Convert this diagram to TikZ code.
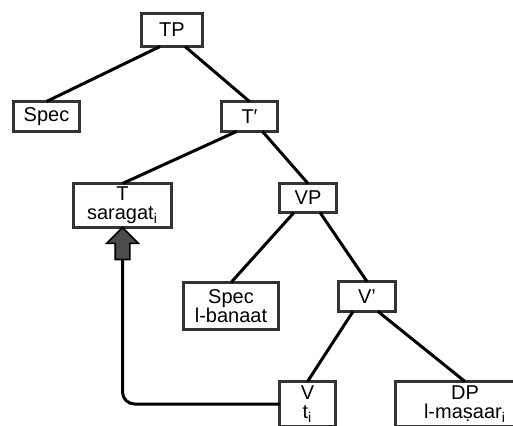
\documentclass[tikz,border=0pt]{standalone}
\usepackage{fontspec}
\setmainfont{Liberation Sans}
\usetikzlibrary{positioning,shapes.arrows}

\begin{document}
\begin{tikzpicture}[
		x=0.5pt, y=-0.5pt,
		every node/.style = {
			draw=black!80, rectangle, line width=1.7pt,
			minimum width=28pt,
			minimum height=15pt,
			outer sep=0cm, inner sep=0cm,
			align=center,
			font=\fontsize{10pt}{9.6pt}\selectfont
		},
		branch/.style = {line width=1.5pt, black},
		mover/.style = {line width=1.5pt, black, rounded corners=6pt}
		]
		\clip (0,0) rectangle (513,425);
		%\draw (0,0) grid (513,425);
		\node[minimum width=30.5pt, minimum height=16.5pt] (tp) at (172, 30) {TP};
		\node[minimum width=33pt] (spec) at (46.5, 116.5) {Spec};
		\node (tbar) at (249.5, 116.5) {T′};
		\node[minimum width=49pt, minimum height=22pt] (t) at (122.5, 205.5) {T\\saragat\textsubscript{i}};
		\node[minimum width=28.5pt, minimum height=14.5pt] (vp) at (308, 198) {VP};
		\node[minimum width=47.5pt, minimum height=23.5pt] (vspec) at (231, 306) {Spec\\l-banaat};
		\node[minimum width=28.5pt] (vbar) at (367, 296.5) {V'};
		\node[minimum height=22.5pt] (v) at (307.5, 404) {V\\t\textsubscript{i}};
		\node[minimum width=69.5pt, minimum height=22.5pt] (dp) at (465, 404) {DP\\l-maṣaar\textsubscript{i}};

		\draw[branch] ([xshift=-6pt]tp.south) -- (spec.north);
		\draw[branch] ([xshift=6.5pt]tp.south) -- (tbar.north);
		\draw[branch] ([xshift=-6.5pt]tbar.south) -- (t.north);
		\draw[branch] ([xshift=6.5pt]tbar.south) -- (vp.north);
		\draw[branch] ([xshift=-7pt]vp.south) -- (vspec.north);
		\draw[branch] ([xshift=6pt]vp.south) -- (vbar.north);
		\draw[branch] ([xshift=-7pt]vbar.south) -- (v.north);
		\draw[branch] ([xshift=5.5pt]vbar.south) -- (dp.north);

		\node[single arrow, anchor=tip, shape border rotate=90,
			draw=black, fill=black!70, line width=0.8pt,
			minimum width=0pt, minimum height=16pt, inner sep=3.25pt,
			single arrow head extend=4.25pt] (head) at (t.south) {};
		\draw[mover] (v.west) -| (head.tail);
	\end{tikzpicture}
\end{document}
